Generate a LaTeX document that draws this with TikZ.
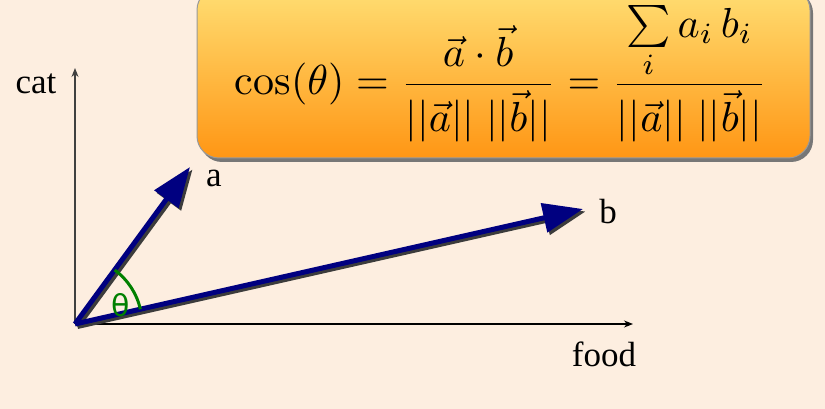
\documentclass[tikz,border=0pt]{standalone}
\usepackage{fontspec}
\usetikzlibrary{arrows.meta}
\newfontfamily\labelfont{Liberation Serif}
\newfontfamily\thetafont{DejaVu Sans}
\definecolor{bgc}{RGB}{253,238,224}
\definecolor{vecc}{RGB}{0,0,128}
\definecolor{shadc}{RGB}{60,60,60}
\definecolor{greenc}{RGB}{0,128,0}
\definecolor{boxtop}{RGB}{255,222,115}
\definecolor{boxbot}{RGB}{255,150,20}
\tikzset{
  vec/.style={line width=5pt, vecc, -{Triangle[length=40pt,width=29pt]}},
  vecshadow/.style={line width=5pt, shadc, -{Triangle[length=40pt,width=29pt]}},
  axis/.style={line width=1.1pt, black, -{Stealth[length=9pt,width=7pt]}},
  lbl/.style={font=\labelfont\fontsize{35}{40}\selectfont, inner sep=0pt},
}
\begin{document}
\begin{tikzpicture}[x=1pt,y=-1pt]
\useasboundingbox (0,0) rectangle (825,409);
\fill[bgc] (0,0) rectangle (825,409);
% formula box
\fill[shadc!70, rounded corners=22pt] (200,-9) rectangle (813,162);
\shade[top color=boxtop, bottom color=boxbot, rounded corners=22pt, draw=black!40, line width=1pt] (197,-12) rectangle (810,158);
\node[scale=4.2, anchor=base, inner sep=0pt] (formula) at (501,95)
  {$\displaystyle \cos(\theta) = \frac{\vec{a}\cdot\vec{b}}{||\vec{a}||\;||\vec{b}||} = \frac{\sum\limits_i a_i\, b_i}{||\vec{a}||\;||\vec{b}||}$};
% axes
\coordinate (O) at (75,324);
\coordinate (Y) at (75,68);
\coordinate (X) at (633,324);
\draw[axis, black!75] (O) -- (Y);
\draw[axis] (O) -- (X);
% vectors
\coordinate (A) at (190,167);
\coordinate (B) at (583,209);
\draw[vecshadow] ([shift={(2.5,2.5)}]O) -- ([shift={(2.5,2.5)}]A);
\draw[vecshadow] ([shift={(2.5,2.5)}]O) -- ([shift={(2.5,2.5)}]B);
\draw[vec] (O) -- (A);
\draw[vec] (O) -- (B);
% angle
\draw[greenc, line width=3pt] ([shift={(-12.7:67)}]O) arc[start angle=-12.7, end angle=-53.6, radius=67];
\node[font=\thetafont\fontsize{30}{34}\selectfont, text=greenc, inner sep=0pt] (theta) at (121,305) {θ};
% labels
\node[lbl] (la) at (214,178) {a};
\node[lbl] (lb) at (608,212) {b};
\node[lbl] (lcat) at (36,84) {cat};
\node[lbl] (lfood) at (604,354) {food};
\end{tikzpicture}
\end{document}
